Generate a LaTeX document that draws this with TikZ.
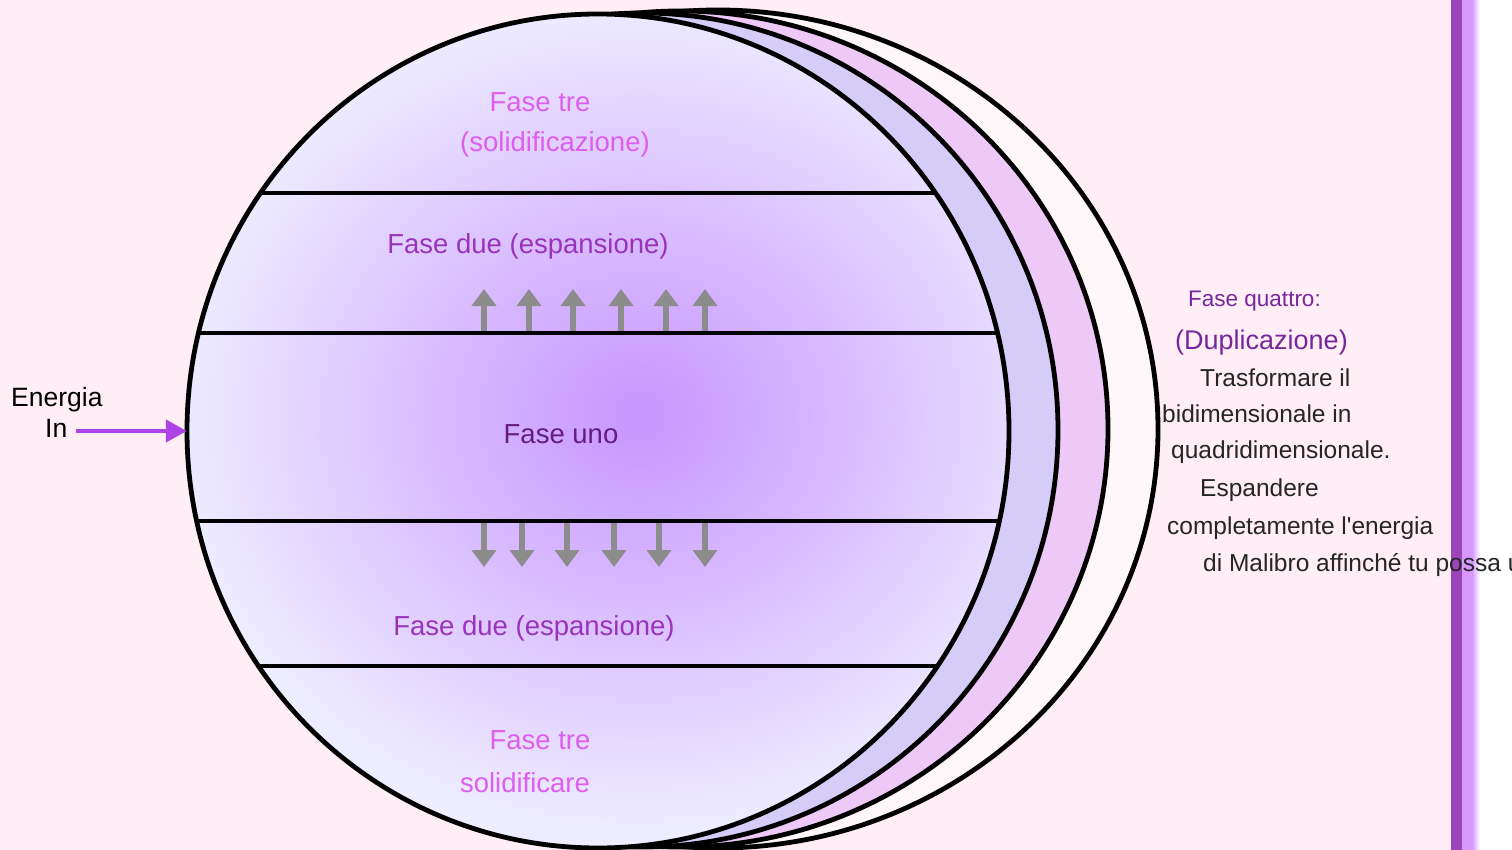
\documentclass[tikz,border=0pt]{standalone}
\usepackage{fontspec}
\setmainfont{Liberation Sans}
\usetikzlibrary{arrows.meta, positioning, shapes.geometric}

\definecolor{sfondo}{HTML}{FFEEF5}
\definecolor{bordoSfera}{HTML}{EEEDFF}
\definecolor{nucleo}{HTML}{C795FF}
\definecolor{strato2}{HTML}{D6CCF8}
\definecolor{strato3}{HTML}{EEC8F7}
\definecolor{strato4}{HTML}{FFF6FA}
\definecolor{tre}{HTML}{DD5EF0}
\definecolor{due}{HTML}{9A33BC}
\definecolor{uno}{HTML}{651C80}
\definecolor{quattro}{HTML}{76289A}
\definecolor{freccia}{HTML}{8C8C8C}
\definecolor{energia}{HTML}{B043E6}
\definecolor{barra}{HTML}{9C45B9}
\definecolor{barrachiara}{HTML}{D899FF}

\begin{document}
\begin{tikzpicture}[
    x=1pt, y=-1pt,
    strato/.style={draw=black, line width=4.8pt},
    banda/.style={draw=black, line width=4.8pt},
    fase/.style={inner sep=0pt, font=\fontsize{27.5}{32}\selectfont},
    nota/.style={inner sep=0pt, anchor=west, font=\fontsize{24.5}{29}\selectfont, text=black!85},
    su/.style={-{Triangle[length=17pt, width=24pt]}, line width=6pt, freccia},
    giu/.style={-{Triangle[length=17pt, width=24pt]}, line width=6pt, freccia},
    flusso/.style={-{Triangle[length=21pt, width=22pt]}, line width=4.5pt, energia},
]

    %==================== BACKGROUND ====================
    \useasboundingbox (0,0) rectangle (1512,850);
    \fill[sfondo] (0,0) rectangle (1451,850);
    \fill[white] (1451,0) rectangle (1512,850);

    %==================== OUTER LAYERS ====================
    \filldraw[strato, fill=strato4] (718,429) ellipse [x radius=440, y radius=419];
    \filldraw[strato, fill=strato3] (680,429) ellipse [x radius=428, y radius=418];
    \filldraw[strato, fill=strato2] (642,430) ellipse [x radius=416, y radius=417];

    %==================== MAIN SPHERE ====================
    \node[ellipse, minimum width=822pt, minimum height=834pt, inner sep=0pt,
          fill=bordoSfera] (sfera) at (598,431) {};
    \begin{scope}
        \clip (598,431) ellipse [x radius=411, y radius=417];
        \shade[inner color=nucleo, outer color=bordoSfera]
            (640,415) ellipse [x radius=470, y radius=420];
        % band borders
        \draw[banda] (150,193) -- (1050,193);
        \draw[banda] (150,333) -- (1050,333);
        \draw[banda] (150,521) -- (1050,521);
        \draw[banda] (150,666) -- (1050,666);
    \end{scope}
    \draw[strato] (sfera.center) ellipse [x radius=411, y radius=417];

    %==================== PHASE LABELS ====================
    \node[fase, text=tre] (tre1) at (540,102) {Fase tre};
    \node[fase, text=tre] (tre1b) at (555,144) {(solidificazione)};
    \node[fase, text=due] (due1) at (528,246) {Fase due (espansione)};
    \node[fase, text=uno] (uno) at (561,434) {Fase uno};
    \node[fase, text=due] (due2) at (534,628) {Fase due (espansione)};
    \node[fase, text=tre] (tre2) at (540,740) {Fase tre};
    \node[fase, text=tre] (tre2b) at (525,783) {solidificare};

    %==================== EXPANSION ARROWS ====================
    \foreach \x in {484,529,573,621,666,705}
        \draw[su] (\x,331) -- (\x,289);
    \foreach \x in {484,522,567,614,659,705}
        \draw[giu] (\x,523) -- (\x,567);

    %==================== ENERGY IN ====================
    \node[fase, anchor=west, font=\fontsize{26.5}{30}\selectfont] (energiaTxt) at (11,400) {Energia};
    \node[fase, anchor=west, font=\fontsize{26.5}{30}\selectfont] (inTxt) at (45,428) {In};
    \draw[flusso] ([xshift=8pt]inTxt.east |- sfera.west) -- (sfera.west);

    %==================== SIDE BAR ====================
    \fill[barra] (1451,0) rectangle (1462,850);
    \fill[barrachiara] (1462,0) rectangle (1472,850);
    \shade[left color=barrachiara, right color=white] (1472,0) rectangle (1480,850);

    %==================== PHASE FOUR ====================
    \node[nota, font=\fontsize{22.5}{27}\selectfont, text=quattro] (q1) at (1188,301) {Fase quattro:};
    \node[nota, font=\fontsize{27}{32}\selectfont, text=quattro] (q2) at (1175,343) {(Duplicazione)};
    \node[nota] (q3) at (1200,378) {Trasformare il};
    \node[nota] (q4) at (1162,414) {bidimensionale in};
    \node[nota] (q5) at (1171,452) {quadridimensionale.};
    \node[nota] (q6) at (1200,490) {Espandere};
    \node[nota] (q7) at (1167,528) {completamente l\textquotesingle energia};
    \node[nota] (q8) at (1203,565) {di Malibro affinché tu possa u};

\end{tikzpicture}
\end{document}
